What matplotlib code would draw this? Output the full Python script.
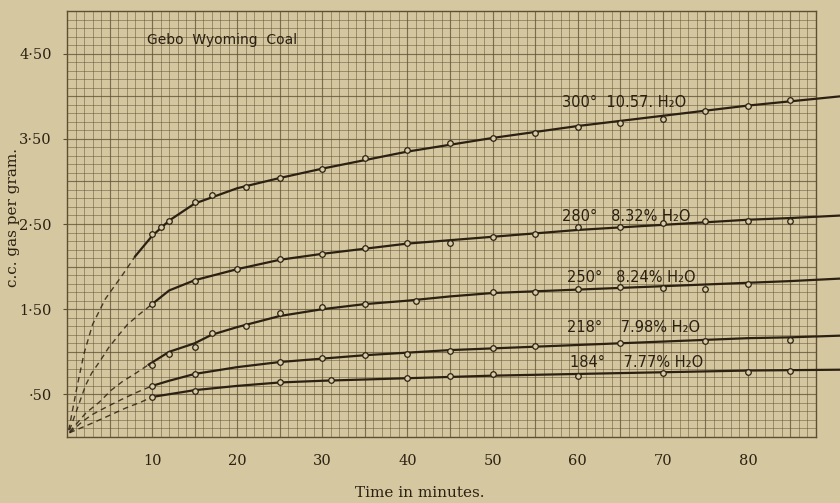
import matplotlib
matplotlib.use('Agg')
import matplotlib.pyplot as plt
import numpy as np

pts_300_x = [10, 11, 12, 15, 17, 21, 25, 30, 35, 40, 45, 50, 55, 60, 65, 70, 75, 80, 85]
pts_300_y = [2.38, 2.47, 2.54, 2.76, 2.84, 2.93, 3.04, 3.15, 3.27, 3.37, 3.45, 3.51, 3.57, 3.64, 3.69, 3.73, 3.83, 3.89, 3.95]
line_300_x = [8, 10, 12, 15, 20, 25, 30, 35, 40, 45, 50, 55, 60, 65, 70, 75, 80, 85, 91]
line_300_y = [2.12, 2.36, 2.54, 2.74, 2.92, 3.04, 3.15, 3.25, 3.35, 3.43, 3.51, 3.58, 3.65, 3.71, 3.77, 3.83, 3.89, 3.94, 4.00]
dash_300_x = [0.2, 1.2, 2.0, 3.0, 4.5, 6.5, 8.0]
dash_300_y = [0.08, 0.6, 0.98, 1.32, 1.62, 1.9, 2.12]

pts_280_x = [10, 15, 20, 25, 30, 35, 40, 45, 50, 55, 60, 65, 70, 75, 80, 85]
pts_280_y = [1.56, 1.83, 1.97, 2.09, 2.15, 2.22, 2.28, 2.28, 2.35, 2.38, 2.46, 2.46, 2.51, 2.53, 2.53, 2.54]
line_280_x = [10, 12, 15, 20, 25, 30, 35, 40, 45, 50, 55, 60, 65, 70, 75, 80, 85, 91]
line_280_y = [1.56, 1.72, 1.84, 1.97, 2.08, 2.15, 2.21, 2.27, 2.31, 2.35, 2.39, 2.43, 2.46, 2.49, 2.52, 2.55, 2.57, 2.60]
dash_280_x = [0.3, 2.2, 2.9, 4.0, 4.9, 6.1, 7.1, 8.5, 10]
dash_280_y = [0.08, 0.61, 0.75, 0.91, 1.05, 1.2, 1.32, 1.44, 1.56]

pts_250_x = [10, 12, 15, 17, 21, 25, 30, 35, 41, 50, 55, 60, 65, 70, 75, 80]
pts_250_y = [0.85, 0.98, 1.06, 1.22, 1.30, 1.46, 1.52, 1.56, 1.60, 1.70, 1.70, 1.74, 1.76, 1.75, 1.74, 1.80]
line_250_x = [9.6, 12, 15, 17, 20, 25, 30, 35, 40, 45, 50, 55, 60, 65, 70, 75, 80, 85, 91]
line_250_y = [0.85, 1.0, 1.1, 1.2, 1.29, 1.42, 1.5, 1.56, 1.6, 1.65, 1.69, 1.71, 1.73, 1.75, 1.77, 1.79, 1.81, 1.83, 1.86]
dash_250_x = [0.3, 2.2, 3.8, 5.2, 6.5, 8.1, 9.6]
dash_250_y = [0.06, 0.28, 0.41, 0.55, 0.65, 0.75, 0.85]

pts_218_x = [10, 15, 25, 30, 35, 40, 45, 50, 55, 65, 75, 85]
pts_218_y = [0.6, 0.74, 0.88, 0.93, 0.96, 0.98, 1.01, 1.05, 1.07, 1.1, 1.13, 1.14]
line_218_x = [10, 12, 15, 20, 25, 30, 35, 40, 45, 50, 55, 60, 65, 70, 75, 80, 85, 91]
line_218_y = [0.6, 0.66, 0.74, 0.82, 0.88, 0.92, 0.96, 0.99, 1.02, 1.04, 1.06, 1.08, 1.10, 1.12, 1.14, 1.16, 1.17, 1.19]
dash_218_x = [0.3, 1.8, 2.9, 4.6, 6.4, 8.1, 10]
dash_218_y = [0.05, 0.18, 0.26, 0.35, 0.44, 0.52, 0.6]

pts_184_x = [10, 15, 25, 31, 40, 45, 50, 60, 70, 80, 85]
pts_184_y = [0.47, 0.54, 0.64, 0.67, 0.69, 0.72, 0.74, 0.72, 0.75, 0.76, 0.78]
line_184_x = [10, 15, 20, 25, 30, 40, 50, 60, 70, 80, 91]
line_184_y = [0.47, 0.55, 0.6, 0.64, 0.66, 0.69, 0.72, 0.74, 0.76, 0.78, 0.79]
dash_184_x = [0.3, 2.9, 4.7, 6.9, 8.7, 10]
dash_184_y = [0.05, 0.16, 0.24, 0.34, 0.41, 0.47]

labels = ['300°  10.57. H₂O', '280°   8.32% H₂O', '250°   8.24% H₂O',
          '218°    7.98% H₂O', '184°    7.77% H₂O']
label_x = [58.2, 58.2, 58.7, 58.7, 59.1]
label_y = [3.93, 2.59, 1.87, 1.28, 0.87]

xtick_vals = [10, 20, 30, 40, 50, 60, 70, 80]
ytick_vals = [0.5, 1.5, 2.5, 3.5, 4.5]
ytick_text = ['·50', '1·50', '2·50', '3·50', '4·50']

paper = '#d5c7a0'
ink = '#2b2112'
gridc = '#5f4f32'

fig = plt.figure(figsize=(8.4, 5.03), dpi=100)
fig.patch.set_facecolor(paper)
ax = fig.add_axes([67/840, 1 - 437/503, (816 - 67)/840, (437 - 11)/503])
ax.set_facecolor('#d4c69f')
ax.set_xlim(0, 88)
ax.set_ylim(0, 5.0)

ax.set_xticks(xtick_vals)
ax.set_xticks(np.arange(0, 89, 1), minor=True)
ax.set_yticks(ytick_vals)
ax.set_yticks(np.arange(0, 5.01, 0.1), minor=True)
ax.grid(which='minor', color=gridc, lw=0.7, alpha=0.5)
ax.grid(which='major', color=gridc, lw=0.7, alpha=0.5)
# slightly heavier rule every fifth line, as on the printed paper
ax.vlines(np.arange(5, 88, 5), 0, 5, color=gridc, lw=0.9, alpha=0.5, zorder=0.6)
ax.hlines(np.arange(0.5, 5.0, 0.5), 0, 88, color=gridc, lw=0.9, alpha=0.5, zorder=0.6)
ax.set_yticklabels(ytick_text)
ax.tick_params(which='minor', length=0)
ax.tick_params(which='major', length=3, color=gridc, labelcolor=ink)
ax.tick_params(axis='x', which='major', pad=12, length=0)
ax.tick_params(axis='y', which='major', pad=8)
for lab in ax.get_xticklabels() + ax.get_yticklabels():
    lab.set_fontfamily('DejaVu Serif')
    lab.set_fontsize(10.5)
for sp in ax.spines.values():
    sp.set_color(gridc)
    sp.set_linewidth(1.0)

series = [
    (pts_300_x, pts_300_y, line_300_x, line_300_y, dash_300_x, dash_300_y),
    (pts_280_x, pts_280_y, line_280_x, line_280_y, dash_280_x, dash_280_y),
    (pts_250_x, pts_250_y, line_250_x, line_250_y, dash_250_x, dash_250_y),
    (pts_218_x, pts_218_y, line_218_x, line_218_y, dash_218_x, dash_218_y),
    (pts_184_x, pts_184_y, line_184_x, line_184_y, dash_184_x, dash_184_y),
]
for px, py, lx, ly, dx, dy in series:
    ax.plot(lx, ly, color=ink, lw=1.6, clip_on=False, zorder=3)
    ax.plot(dx, dy, color=ink, lw=1.0, ls=(0, (4, 3)), alpha=0.85, zorder=3)
    ax.plot(px, py, 'o', ms=4, mfc='#d8cba5', mec=ink, mew=0.9, zorder=4)

for t, x, y in zip(labels, label_x, label_y):
    ax.text(x, y, t, fontsize=10.5, color=ink, va='center', ha='left', zorder=5,
            fontfamily='DejaVu Sans')

ax.text(9.4, 4.66, 'Gebo  Wyoming  Coal', fontsize=10, color=ink,
        va='center', ha='left', fontfamily='DejaVu Sans')

fig.text(13/840, 1 - 217/503, 'c.c. gas per gram.', rotation=90, ha='center',
         va='center', fontsize=11, color=ink, fontfamily='DejaVu Serif')
fig.text(420/840, 1 - 493/503, 'Time in minutes.', ha='center', va='center',
         fontsize=11, color=ink, fontfamily='DejaVu Serif')

fig.savefig('out.png', dpi=100, facecolor=paper)
